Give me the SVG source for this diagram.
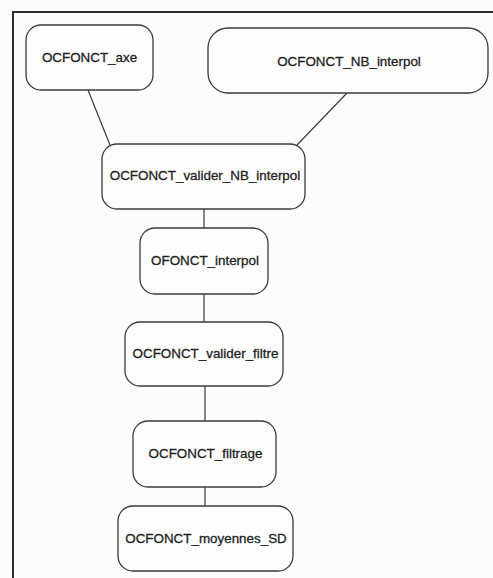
<svg xmlns="http://www.w3.org/2000/svg" width="493" height="578" viewBox="0 0 493 578">
  <style>
    .box { fill: #fdfdfd; stroke: #3a3a3a; stroke-width: 1.3; }
    .lbl { font-family: "Liberation Sans", Arial, sans-serif; font-size: 13.4px; fill: #1e1e1e; stroke: #1e1e1e; stroke-width: 0.3; text-anchor: middle; dominant-baseline: central; }
    .link { stroke: #3a3a3a; stroke-width: 1.2; fill: none; }
    .frame { stroke: #2e2e2e; stroke-width: 2; fill: none; }
  </style>
  <rect x="0" y="0" width="493" height="578" fill="#fcfcfc"/>
  <!-- page frame: top and left edges -->
  <path class="frame" d="M493 12 H13 V578"/>

  <g id="connectors">
    <line class="link" x1="88" y1="90" x2="110" y2="145"/>
    <line class="link" x1="347" y1="93" x2="297" y2="145"/>
    <line class="link" x1="204" y1="209" x2="204" y2="228"/>
    <line class="link" x1="204" y1="294" x2="204" y2="322"/>
    <line class="link" x1="205" y1="386" x2="205" y2="421"/>
    <line class="link" x1="205" y1="487" x2="205" y2="506"/>
  </g>

  <g id="n-axe">
    <rect class="box" x="26" y="25" width="127" height="65" rx="15"/>
    <text class="lbl" x="89.5" y="57">OCFONCT_axe</text>
  </g>
  <g id="n-nb-interpol">
    <rect class="box" x="208" y="28" width="280" height="65" rx="20"/>
    <text class="lbl" x="349" y="61">OCFONCT_NB_interpol</text>
  </g>
  <g id="n-valider-nb-interpol">
    <rect class="box" x="102" y="144" width="203" height="65" rx="15"/>
    <text class="lbl" x="205" y="175">OCFONCT_valider_NB_interpol</text>
  </g>
  <g id="n-interpol">
    <rect class="box" x="140" y="228" width="128" height="66" rx="15"/>
    <text class="lbl" x="205" y="260">OFONCT_interpol</text>
  </g>
  <g id="n-valider-filtre">
    <rect class="box" x="125" y="322" width="158" height="64" rx="15"/>
    <text class="lbl" x="205.5" y="353">OCFONCT_valider_filtre</text>
  </g>
  <g id="n-filtrage">
    <rect class="box" x="133" y="421" width="143" height="66" rx="15"/>
    <text class="lbl" x="205.5" y="453">OCFONCT_filtrage</text>
  </g>
  <g id="n-moyennes-sd">
    <rect class="box" x="118" y="506" width="175" height="65" rx="15"/>
    <text class="lbl" x="206" y="538">OCFONCT_moyennes_SD</text>
  </g>
</svg>
